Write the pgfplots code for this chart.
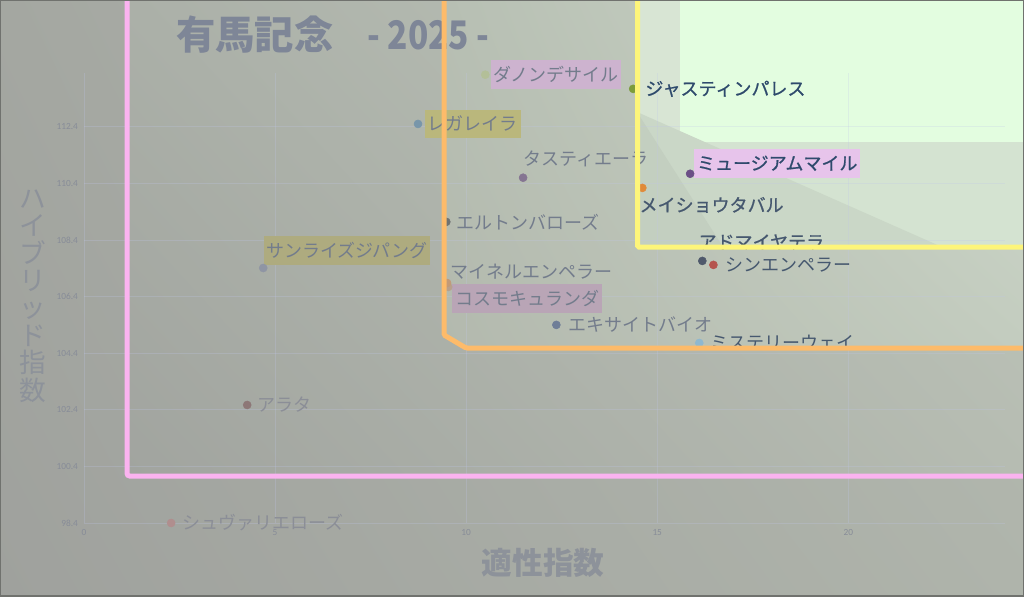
\documentclass[border=0pt]{standalone}
\usepackage{pgfplots}
\pgfplotsset{compat=1.18}
\usetikzlibrary{shadings}
\usepackage{graphicx}
\usepackage{fontspec}
\setmainfont{Noto Sans CJK JP}
\newfontfamily\medfont{Noto Sans CJK JP}[FakeBold=0.8]
\newfontfamily\tickfont{Carlito}
\definecolor{bgLL}{HTML}{9FA19D}\definecolor{bgUL}{HTML}{A4A7A1}
\definecolor{bgLR}{HTML}{AFB4AB}\definecolor{bgUR}{HTML}{B6BDB3}
\definecolor{pkUL}{HTML}{ABB0A8}\definecolor{pkLL}{HTML}{A1A49F}
\definecolor{pkUR}{HTML}{C0C8BC}\definecolor{pkLR}{HTML}{B6BCB2}
\definecolor{orUL}{HTML}{B7BFB3}\definecolor{orLL}{HTML}{B3B9AE}
\definecolor{orUR}{HTML}{CFDACB}\definecolor{orLR}{HTML}{C3CCBF}
\definecolor{ylBase}{HTML}{D4E3D1}\definecolor{ylBright}{HTML}{E3FDE0}
\definecolor{ylStrip}{HTML}{D8E5D4}\definecolor{ylW1}{HTML}{CAD7C7}
\definecolor{ylW2}{HTML}{C3CFC0}
\definecolor{boxPink}{HTML}{FBB3F0}\definecolor{boxOrange}{HTML}{FDBB6A}
\definecolor{boxYellow}{HTML}{FDF57A}
\definecolor{titleC}{HTML}{7E8697}\definecolor{axC}{HTML}{8D929A}
\definecolor{tickC}{HTML}{878C98}\definecolor{gridC}{HTML}{C0C6EA}
% point colours
\definecolor{pDanon}{HTML}{B3BF98}\definecolor{pJustin}{HTML}{7C9C3A}
\definecolor{pRega}{HTML}{7896AA}\definecolor{pTasti}{HTML}{857592}
\definecolor{pMuseum}{HTML}{6B4F86}\definecolor{pMeisho}{HTML}{E08A3A}
\definecolor{pElton}{HTML}{6E7272}\definecolor{pSunrise}{HTML}{8F95A4}
\definecolor{pAdmire}{HTML}{4F596C}\definecolor{pShin}{HTML}{B5544E}
\definecolor{pMeiner}{HTML}{C29A78}\definecolor{pCosmo}{HTML}{B8A08C}
\definecolor{pExcite}{HTML}{6F7E98}\definecolor{pMystery}{HTML}{8FB8D0}
\definecolor{pArata}{HTML}{8D7777}\definecolor{pChev}{HTML}{B08E8E}
% label colours
\definecolor{tDim}{HTML}{737C8C}\definecolor{tDark}{HTML}{2E4A6C}
\definecolor{tMid}{HTML}{46586F}\definecolor{tFaint}{HTML}{8B8E97}
\definecolor{hlPink}{HTML}{CDB3CF}\definecolor{hlPinkB}{HTML}{E7C4EB}
\definecolor{hlPinkD}{HTML}{B9A5B6}\definecolor{hlOlive}{HTML}{BAB77C}
\definecolor{hlOliveD}{HTML}{AEAB7F}
\begin{document}
\begin{tikzpicture}[x=0.75pt,y=-0.75pt,
  lbl/.style={font=\fontsize{13.5}{16}\selectfont, inner sep=0pt, anchor=west},
  hl/.style={font=\fontsize{13.5}{16}\selectfont, inner xsep=2pt, inner ysep=0pt, minimum height=21.5pt, anchor=west},
  bright/.style={font=\medfont\fontsize{13.5}{16}\selectfont}]
\path[use as bounding box] (0,0) rectangle (1024,596);
% background zones
\shade[upper left=bgUL, upper right=bgUR, lower left=bgLL, lower right=bgLR] (0,0) rectangle (1024,596);
\shade[upper left=pkUL, upper right=pkUR, lower left=pkLL, lower right=pkLR] (127,0) rectangle (1024,476);
\shade[upper left=orUL, upper right=orUR, lower left=orLL, lower right=orLR] (444,0) -- (1024,0) -- (1024,348) -- (466,348) -- (444,335) -- cycle;
\fill[ylBase] (637,0) rectangle (1024,247);
\fill[ylStrip] (637,0) rectangle (680,142);
\fill[ylBright] (680,0) rectangle (1024,142);
\fill[ylW1] (637,112) -- (942,247) -- (637,247) -- cycle;
\fill[ylW2] (637,112) -- (723,247) -- (637,247) -- cycle;
\begin{axis}[at={(63pt,-392.25pt)}, anchor=south west, scale only axis,
  width=690.75pt, height=337.5pt,
  xmin=0, xmax=24.1, ymin=98.4, ymax=114.3, clip=false,
  axis line style={draw=none}, major tick length=0pt,
  grid=major, grid style={gridC, opacity=0.25, line width=0.6pt},
  xtick={0,5,10,15,20}, xticklabels={0,5,10,15,20},
  ytick={98.4,100.4,102.4,104.4,106.4,108.4,110.4,112.4},
  yticklabels={98.4,100.4,102.4,104.4,106.4,108.4,110.4,112.4},
  tick label style={font=\tickfont\fontsize{7}{8}\selectfont, text=tickC},
  xticklabel style={yshift=-1pt}, yticklabel style={xshift=-1pt},
  every axis plot/.append style={only marks, mark=*, mark size=3pt}]
\addplot[pDanon] coordinates {(10.50,114.24)};
\addplot[pJustin] coordinates {(14.37,113.74)};
\addplot[pRega] coordinates {(8.74,112.50)};
\addplot[pTasti] coordinates {(11.49,110.60)};
\addplot[pMuseum] coordinates {(15.86,110.74)};
\addplot[pMeisho] coordinates {(14.61,110.24)};
\addplot[pElton] coordinates {(9.48,109.04)};
\addplot[pSunrise] coordinates {(4.69,107.41)};
\addplot[pAdmire] coordinates {(16.18,107.66)};
\addplot[pShin] coordinates {(16.47,107.52)};
\addplot[pCosmo] coordinates {(9.53,106.74)};
\addplot[pMeiner] coordinates {(9.50,106.88)};
\addplot[pExcite] coordinates {(12.36,105.40)};
\addplot[pMystery] coordinates {(16.10,104.76)};
\addplot[pArata] coordinates {(4.27,102.57)};
\addplot[pChev] coordinates {(2.28,98.40)};
\node[hl, fill=hlPink, text=tDim, xshift=3.75pt] at (axis cs:10.50,114.24) {ダノンデサイル};
\node[lbl, bright, text=tDark, xshift=9pt] at (axis cs:14.37,113.74) {ジャスティンパレス};
\node[hl, fill=hlOlive, text=tDim, xshift=5.25pt] at (axis cs:8.74,112.50) {レガレイラ};
\node[lbl, text=tDim, yshift=14.25pt] at (axis cs:11.49,110.60) {タスティエーラ};
\node[hl, bright, fill=hlPinkB, text=tDark, xshift=3pt, yshift=7.9pt] at (axis cs:15.86,110.74) {ミュージアムマイル};
\node[lbl, bright, text=tMid, xshift=-2.25pt, yshift=-12.75pt] at (axis cs:14.61,110.24) {メイショウタバル};
\node[lbl, text=tDim, xshift=7.5pt] at (axis cs:9.48,109.04) {エルトンバローズ};
\node[hl, fill=hlOliveD, text=tDim, xshift=0pt, yshift=13.1pt] at (axis cs:4.69,107.41) {サンライズジパング};
\node[lbl, bright, text=tMid, xshift=-3pt, yshift=14.25pt] at (axis cs:16.18,107.66) {アドマイヤテラ};
\node[lbl, text=tMid, xshift=9pt] at (axis cs:16.47,107.52) {シンエンペラー};
\node[lbl, text=tDim, xshift=2.25pt, yshift=8.25pt] at (axis cs:9.50,106.88) {マイネルエンペラー};
\node[hl, fill=hlPinkD, text=tDim, xshift=3pt, yshift=-8.6pt] at (axis cs:9.53,106.74) {コスモキュランダ};
\node[lbl, text=tDim, xshift=9pt] at (axis cs:12.36,105.40) {エキサイトバイオ};
\node[lbl, text=tMid, xshift=8.25pt] at (axis cs:16.10,104.76) {ミステリーウェイ};
\node[lbl, text=tFaint, xshift=7.5pt] at (axis cs:4.27,102.57) {アラタ};
\node[lbl, text=tFaint, xshift=8.25pt] at (axis cs:2.28,98.40) {シュヴァリエローズ};
\end{axis}
% titles
\node[anchor=west, inner sep=0pt, text=titleC, font=\fontsize{29.5}{29.5}\selectfont\bfseries] at (176,35) {有馬記念};
\node[anchor=west, inner sep=0pt, text=titleC, font=\fontsize{29.5}{29.5}\selectfont\bfseries] at (367,35) {\scalebox{0.85}[1]{- 2025 -}};
\node[inner sep=0pt, text=axC, font=\fontsize{23}{23}\selectfont\bfseries] at (543,563) {適性指数};
\node[inner sep=0pt, align=center, text=axC, font=\fontsize{20}{20.6}\selectfont] at (33,296) {ハ\\イ\\ブ\\リ\\ッ\\ド\\指\\数};
% highlight boxes
\draw[line width=3.75pt, boxPink, rounded corners=2pt] (127,-10) -- (127,476) -- (1040,476);
\draw[line width=3.75pt, boxOrange, rounded corners=1pt] (444,-10) -- (444,335) -- (466,348) -- (1040,348);
\draw[line width=3.75pt, boxYellow, rounded corners=1pt] (637.5,-10) -- (637.5,247) -- (1040,247);
\draw[line width=1.5pt, color={rgb,255:red,112;green,114;blue,110}] (0,0) rectangle (1024,596);
\end{tikzpicture}
\end{document}
